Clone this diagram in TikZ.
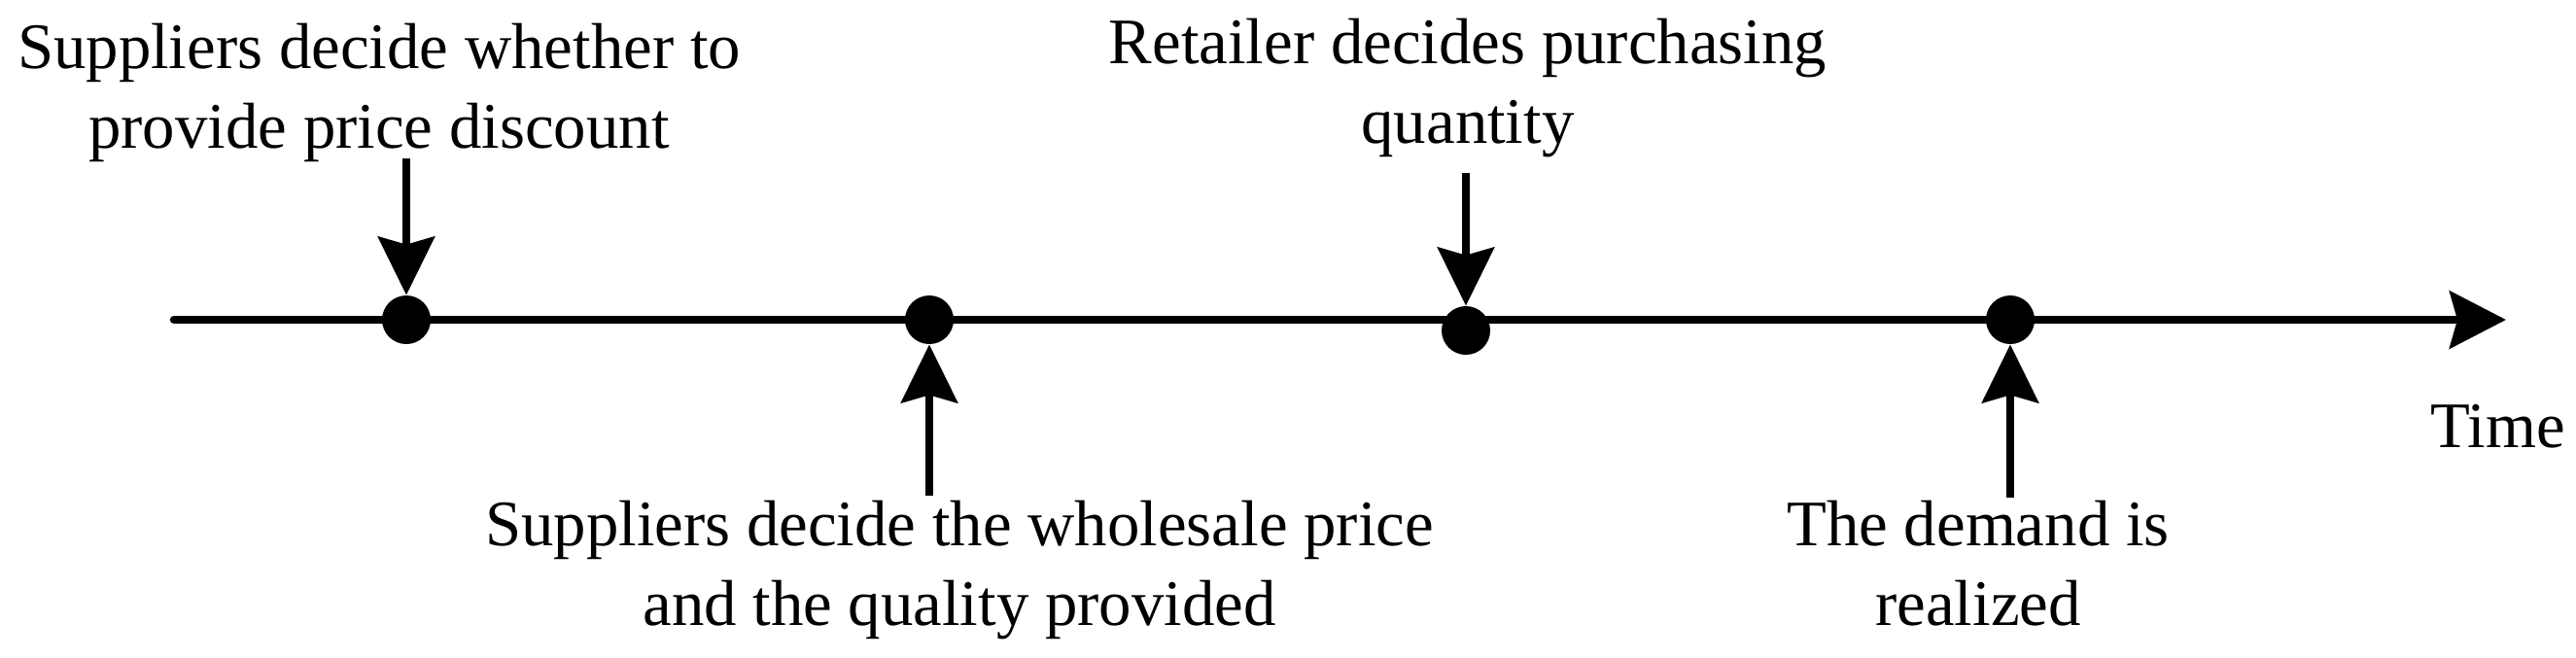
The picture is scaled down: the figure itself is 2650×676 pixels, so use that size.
\documentclass[tikz,border=0pt]{standalone}
\usepackage{fontspec}
\setmainfont{Liberation Serif}
\usetikzlibrary{arrows.meta}

\begin{document}
\begin{tikzpicture}
        [x=0.5pt, y=-0.5pt,
        event/.style={circle, fill=black, minimum size=25pt, inner sep=0pt},
        note/.style={align=center, inner sep=0pt, anchor=base,
        font=\fontsize{33.4}{41}\selectfont},
        line/.style={draw, line width=4pt,
        -{Stealth[length=30pt, width=29pt, inset=4pt]}},
        axis/.style={draw, line width=4.25pt, line cap=round,
        -{Stealth[length=29pt, width=29.5pt, inset=4pt]}}]
        \useasboundingbox (0,0) rectangle (2650,676);
        % time axis
        \coordinate (start) at (179,329);
        \coordinate (end) at (2578,329);
        \path [axis] (start) -- (end);
        % events on the axis
        \node [event] (discount) at (418,329) {};
        \node [event] (wholesale) at (956,329) {};
        \node [event] (purchase) at (1508,340) {};
        \node [event] (demand) at (2068,329) {};
        % texts (placed at the baseline of their last line)
        \node [note] (discounttext) at (390,152)
            {Suppliers decide whether to\\provide price discount};
        \node [note] (wholesaletext) at (987,643)
            {Suppliers decide the wholesale price\\and the quality provided};
        \node [note] (purchasetext) at (1510,147)
            {Retailer decides purchasing\\quantity};
        \node [note] (demandtext) at (2035,643)
            {The demand is\\realized};
        \node [note, anchor=base west] (time) at (2500,460) {Time};
        % arrow tails
        \coordinate (discounttail) at (418,163);
        \coordinate (wholesaletail) at (956,510);
        \coordinate (purchasetail) at (1508,178);
        \coordinate (demandtail) at (2068,512);
        \begin{scope}[every path/.style=line]
            \path (discounttail) -- (discount);
            \path (wholesaletail) -- (wholesale);
            \path (purchasetail) -- (purchase);
            \path (demandtail) -- (demand);
        \end{scope}
    \end{tikzpicture}
\end{document}
